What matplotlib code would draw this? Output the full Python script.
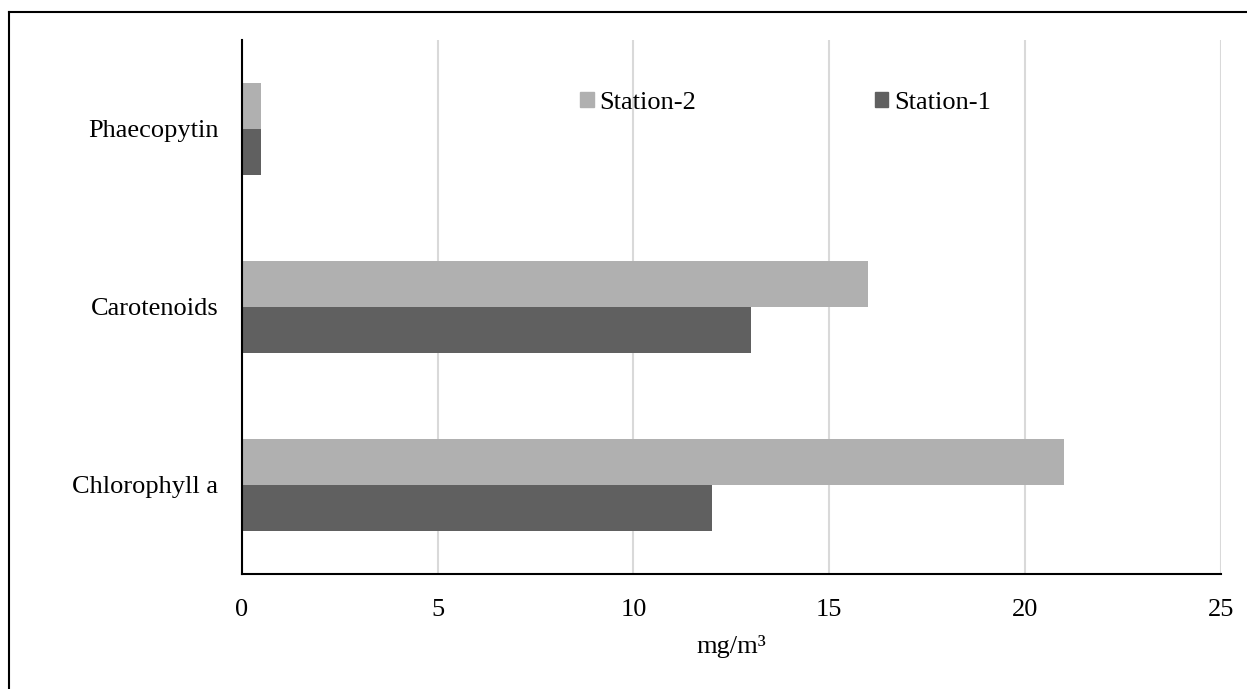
import matplotlib
matplotlib.use("Agg")
import matplotlib.pyplot as plt
import numpy as np
from matplotlib.lines import Line2D
from matplotlib.patches import Patch

# --- DATA ---
categories = ["Chlorophyll a", "Carotenoids", "Phaecopytin"]
station_1 = [12, 13, 0.5]
station_2 = [21, 16, 0.5]
x_ticks = [0, 5, 10, 15, 20, 25]

# --- STYLE ---
c_st1 = "#606060"
c_st2 = "#b0b0b0"
c_grid = "#d9d9d9"
FS = 19

plt.rcParams["font.family"] = ["Liberation Serif", "DejaVu Serif"]

fig = plt.figure(figsize=(12.47, 6.89), dpi=100, facecolor="white")
ax = fig.add_axes([0.194, 0.167, 0.785, 0.775])

y = np.arange(len(categories))
h = 0.26
ax.barh(y + h / 2, station_2, height=h, color=c_st2, label="Station-2", zorder=3)
ax.barh(y - h / 2, station_1, height=h, color=c_st1, label="Station-1", zorder=3)

ax.set_xlim(0, 25)
ax.set_ylim(-0.5, 2.5)
ax.set_xticks(x_ticks)
ax.set_xticklabels([str(v) for v in x_ticks], fontsize=FS)
ax.set_yticks(y)
ax.set_yticklabels(categories, fontsize=FS)
ax.tick_params(axis="x", length=0, pad=18)
ax.tick_params(axis="y", length=0, pad=17)
ax.xaxis.grid(True, color=c_grid, linewidth=1.5, zorder=0)
ax.set_axisbelow(True)

for side in ("top", "right"):
    ax.spines[side].set_visible(False)
for side in ("left", "bottom"):
    ax.spines[side].set_linewidth(1.5)
    ax.spines[side].set_color("black")
    ax.spines[side].set_zorder(4)

ax.set_xlabel("mg/m\u00b3", fontsize=FS, labelpad=10)

handles = [Patch(color=c_st2, label="Station-2"), Patch(color=c_st1, label="Station-1")]
ax.legend(handles=handles, ncol=2, frameon=False, fontsize=FS,
          handlelength=0.5, handleheight=0.5, handletextpad=0.2,
          columnspacing=6.8, loc="upper left",
          bbox_to_anchor=(0.327, 0.938), borderaxespad=0.3)

# outer frame (top and left only)
fig.add_artist(Line2D([9 / 1247, 1.0], [1 - 12 / 689, 1 - 12 / 689],
                      transform=fig.transFigure, color="black", linewidth=1.5))
fig.add_artist(Line2D([9 / 1247, 9 / 1247], [0, 1 - 12 / 689],
                      transform=fig.transFigure, color="black", linewidth=1.5))

fig.savefig("out.png", dpi=100, facecolor="white")
